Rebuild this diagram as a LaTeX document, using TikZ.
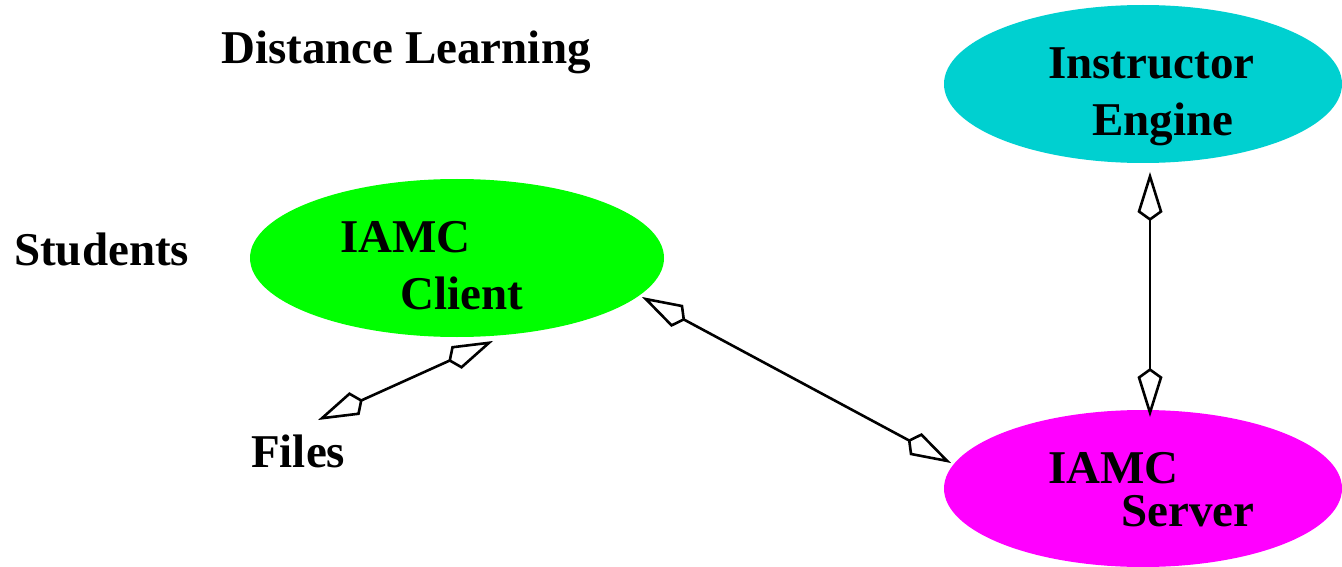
\documentclass[tikz,border=0pt]{standalone}
\usepackage{fontspec}
\setmainfont{Liberation Serif}
\usetikzlibrary{arrows.meta,shapes.geometric}
\definecolor{icyan}{RGB}{0,208,208}
\definecolor{igreen}{RGB}{0,255,0}
\definecolor{imagenta}{RGB}{255,0,255}
\begin{document}
\begin{tikzpicture}[x=1pt,y=-1pt,
  lbl/.style={anchor=base west, inner sep=0pt, font=\fontsize{47}{50}\selectfont\bfseries},
  blob/.style={ellipse, draw=none, inner sep=0pt},
  kitetip/.tip={Kite[fill=white,length=49pt,width=25pt,inset=9pt]},
  conn/.style={line width=2.6pt, black, {kitetip}-{kitetip}}
]
\useasboundingbox (0,0) rectangle (1342,567);
% ellipses
\node[blob, fill=icyan, minimum width=398pt, minimum height=158pt] (ie) at (1143,84) {};
\node[blob, fill=igreen, minimum width=414pt, minimum height=158pt] (client) at (457,258) {};
\node[blob, fill=imagenta, minimum width=398pt, minimum height=157pt] (srv) at (1143,488.5) {};
% labels
\node[lbl] (dl) at (221,64) {Distance Learning};
\node[lbl] (stud) at (14,265) {Students};
\node[lbl] (ieA) at (1048,79) {Instructor};
\node[lbl] (ieB) at (1092,136) {Engine};
\node[lbl] (clA) at (340,252) {IAMC};
\node[lbl] (clB) at (400,309) {Client};
\node[lbl] (srvA) at (1048,483) {IAMC};
\node[lbl] (srvB) at (1121,526) {Server};
\node[lbl] (files) at (251,467) {Files};
% connector end points
\coordinate (fA) at (318,420);
\coordinate (fB) at (493,341);
\coordinate (vA) at (1150,172);
\coordinate (vB) at (1150,417);
\coordinate (cA) at (642,297);
\coordinate (cB) at (951,463);
% connectors
\draw[conn] (fA) -- (fB);
\draw[conn] (cA) -- (cB);
\draw[conn] (vA) -- (vB);
\end{tikzpicture}
\end{document}
